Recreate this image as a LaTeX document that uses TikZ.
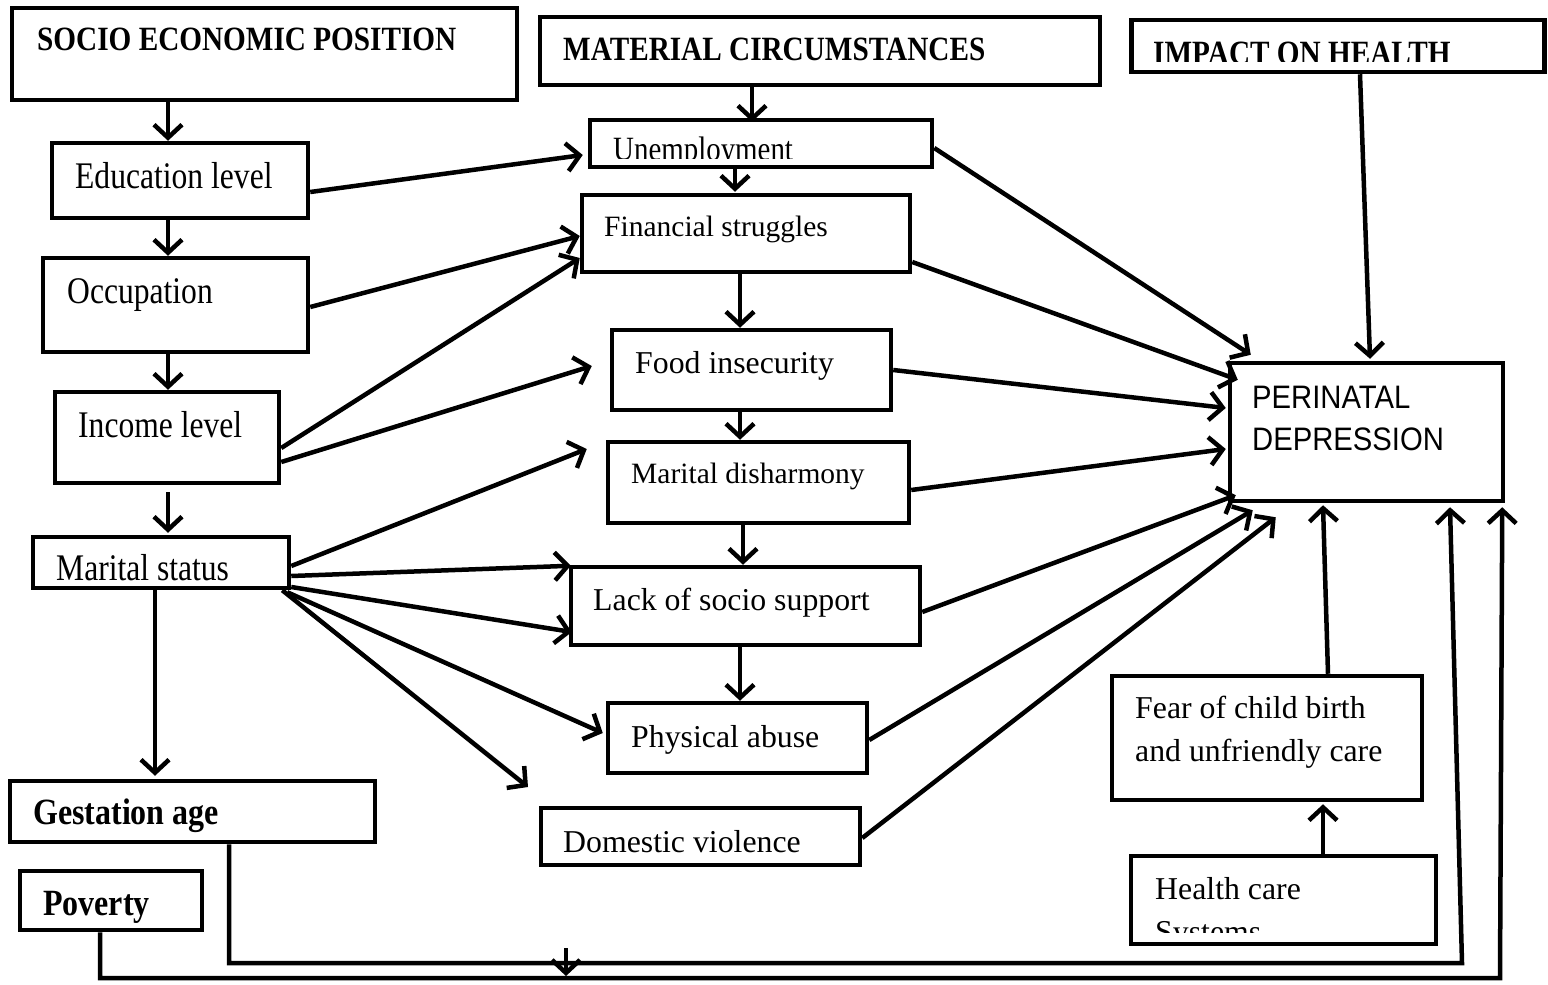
\documentclass[tikz,border=0pt]{standalone}
\usepackage{fontspec}
\usepackage{graphicx}
\setmainfont{Liberation Serif}
\newfontfamily\sansf{Liberation Sans}
\usetikzlibrary{arrows.meta,calc}
\newcommand\TL[1]{\scalebox{0.84}[1]{\fontsize{37.6}{40}\selectfont #1}}
\newcommand\TB[1]{\scalebox{0.86}[1]{\fontsize{34}{36}\selectfont\bfseries #1}}
\newcommand\TG[1]{\scalebox{0.865}[1]{\fontsize{37}{40}\selectfont\bfseries #1}}
\newcommand\TU[1]{\scalebox{0.85}[1]{\fontsize{34}{36}\selectfont #1}}
\newcommand\TS[1]{{\fontsize{29.5}{32}\selectfont #1}}
\newcommand\TM[1]{{\fontsize{31.8}{34}\selectfont #1}}
\newcommand\TP[1]{\scalebox{0.9}[1]{\fontsize{32.5}{35}\selectfont\sansf #1}}
\tikzset{
  box/.style={draw, line width=4.5pt, rectangle, inner sep=0pt, fill=white},
  txt/.style={inner sep=0pt, anchor=base west},
  arr/.style={line width=4.5pt, -{Straight Barb[length=13pt,width=28pt,line width=4.5pt]}},
  ln/.style={line width=4.5pt}
}
\begin{document}
\begin{tikzpicture}[x=1pt,y=-1pt]
\useasboundingbox (0,0) rectangle (1548,985);
% boxes
\node[box, minimum width=505, minimum height=92] (sep) at (264.5,54) {};
\node[box, minimum width=560, minimum height=68] (mc) at (820,51) {};
\node[box, minimum width=413, minimum height=52] (imp) at (1338,46) {};
\node[box, minimum width=256, minimum height=75] (edu) at (180,180.5) {};
\node[box, minimum width=265, minimum height=94] (occ) at (175.5,305) {};
\node[box, minimum width=224, minimum height=91] (inc) at (167,437.5) {};
\node[box, minimum width=256, minimum height=51] (mar) at (161,562.5) {};
\node[box, minimum width=365, minimum height=61] (ges) at (192.5,811.5) {};
\node[box, minimum width=182, minimum height=59] (pov) at (111,900.5) {};
\node[box, minimum width=342, minimum height=47] (une) at (761,143.5) {};
\node[box, minimum width=328, minimum height=77] (fin) at (746,233.5) {};
\node[box, minimum width=279, minimum height=80] (food) at (751.5,370) {};
\node[box, minimum width=301, minimum height=81] (dis) at (758.5,482.5) {};
\node[box, minimum width=349, minimum height=78] (lack) at (745.5,606) {};
\node[box, minimum width=259, minimum height=70] (phy) at (737.5,738) {};
\node[box, minimum width=319, minimum height=57] (dom) at (700.5,836.5) {};
\node[box, minimum width=273, minimum height=138] (per) at (1366.5,432) {};
\node[box, minimum width=310, minimum height=124] (fear) at (1267,738) {};
\node[box, minimum width=305, minimum height=88] (hcs) at (1283.5,900) {};
% texts
\node[txt] (t-sep) at (37,50) {\TB{SOCIO ECONOMIC POSITION}};
\node[txt] (t-mc) at (563,60) {\TB{MATERIAL CIRCUMSTANCES}};
\begin{scope}
\clip (1135,22) rectangle (1540,61);
\node[txt] (t-imp) at (1153,64) {\TB{IMPACT ON HEALTH}};
\end{scope}
\node[txt] (t-edu) at (75,188) {\TL{Education level}};
\node[txt] (t-occ) at (67,303) {\TL{Occupation}};
\node[txt] (t-inc) at (78,437) {\TL{Income level}};
\node[txt] (t-mar) at (56,580) {\TL{Marital status}};
\node[txt] (t-ges) at (33,824) {\TG{Gestation age}};
\node[txt] (t-pov) at (43,915) {\TG{Poverty}};
\begin{scope}
\clip (595,124) rectangle (925,158);
\node[txt] (t-une) at (613,160) {\TU{Unemployment}};
\end{scope}
\node[txt] (t-fin) at (604,236) {\TS{Financial struggles}};
\node[txt] (t-food) at (635,373) {\TM{Food insecurity}};
\node[txt] (t-dis) at (631,483) {\TS{Marital disharmony}};
\node[txt] (t-lack) at (593,610) {\TM{Lack of socio support}};
\node[txt] (t-phy) at (631,747) {\TM{Physical abuse}};
\node[txt] (t-dom) at (563,852) {\TM{Domestic violence}};
\node[txt] (t-per1) at (1252,408) {\TP{PERINATAL}};
\node[txt] (t-per2) at (1252,450) {\TP{DEPRESSION}};
\node[txt] (t-fear1) at (1135,718) {\TM{Fear of child birth}};
\node[txt] (t-fear2) at (1135,761) {\TM{and unfriendly care}};
\node[txt] (t-hcs1) at (1155,899) {\TM{Health care}};
\begin{scope}
\clip (1136,860) rectangle (1430,932);
\node[txt] (t-hcs2) at (1155,942) {\TM{Systems}};
\end{scope}
% vertical chains
\draw[arr] ($(sep.south)+(-96.5,0)$) -- ($(edu.north)+(-12,0)$);
\draw[arr] ($(edu.south)+(-12,0)$) -- ($(occ.north)+(-7.5,0)$);
\draw[arr] ($(occ.south)+(-7.5,0)$) -- ($(inc.north)+(1,0)$);
\draw[arr] ($(inc.south)+(1,7)$) -- ($(mar.north)+(7,-2)$);
\draw[arr] ($(mar.south)+(-6,0)$) -- ($(ges.north)+(-37.5,-3)$);
\draw[arr] ($(mc.south)+(-68,0)$) -- ($(une.north)+(-9,4)$);
\draw[arr] ($(une.south)+(-26,0)$) -- ($(fin.north)+(-11,-1)$);
\draw[arr] ($(fin.south)+(-6,0)$) -- ($(food.north)+(-11.5,0)$);
\draw[arr] ($(food.south)+(-11.5,0)$) -- ($(dis.north)+(-18.5,0)$);
\draw[arr] ($(dis.south)+(-15.5,0)$) -- ($(lack.north)+(-2.5,0)$);
\draw[arr] ($(lack.south)+(-5.5,0)$) -- ($(phy.north)+(2.5,0)$);
% left to middle
\draw[arr] ($(edu.east)+(0,11.5)$) -- ($(une.west)+(-5,11.5)$);
\draw[arr] ($(occ.east)+(0,2)$) -- ($(fin.west)+(0,2.5)$);
\draw[arr] ($(inc.east)+(0,10.5)$) -- ($(fin.west)+(0,24.5)$);
\draw[arr] ($(inc.east)+(0,24.5)$) -- ($(food.west)+(-18,-4)$);
\draw[arr] ($(mar.east)+(0,3.5)$) -- ($(dis.west)+(-19,-33.5)$);
\draw[arr] ($(mar.east)+(0,13.5)$) -- ($(lack.north west)+(2,1)$);
\draw[arr] ($(mar.east)+(0,24.5)$) -- ($(lack.west)+(3,26)$);
\draw[arr] ($(mar.south east)+(-4,2)$) -- ($(phy.west)+(-3,-5)$);
\coordinate (domtip) at (528,787);
\draw[arr] ($(mar.south east)+(-9,0)$) -- (domtip);
% middle to perinatal
\draw[arr] ($(une.east)+(0,4.5)$) -- ($(per.north west)+(23,-6)$);
\draw[arr] ($(fin.east)+(0,28.5)$) -- ($(per.north west)+(10,19)$);
\draw[arr] (food.east) -- ($(per.west)+(-2,-24)$);
\draw[arr] ($(dis.east)+(0,7.5)$) -- ($(per.west)+(-2,17)$);
\draw[arr] ($(lack.east)+(0,6)$) -- ($(per.south west)+(8,-8)$);
\draw[arr] ($(phy.east)+(0,2)$) -- ($(per.south west)+(25,7)$);
\draw[arr] ($(dom.east)+(0,1.5)$) -- ($(per.south west)+(48,14)$);
% right side
\draw[arr] ($(imp.south)+(22,0)$) -- ($(per.north)+(3.5,-2)$);
\draw[arr] ($(fear.north)+(61,0)$) -- ($(per.south)+(-43.5,2)$);
\draw[arr] ($(hcs.north)+(39.5,0)$) -- ($(fear.south)+(56,2)$);
% bottom routes
\coordinate (gcorner) at (1462,963);
\coordinate (pcorner) at (1500,978);
\draw[arr] ($(ges.south)+(36.5,0)$) |- (gcorner) -- ($(per.south)+(83.5,4)$);
\draw[arr] ($(pov.south)+(-11,0)$) |- (pcorner) -- ($(per.south east)+(-3,4)$);
\coordinate (mtop) at (566,948);
\coordinate (mbot) at (566,976);
\draw[arr] (mtop) -- (mbot);
\end{tikzpicture}
\end{document}
